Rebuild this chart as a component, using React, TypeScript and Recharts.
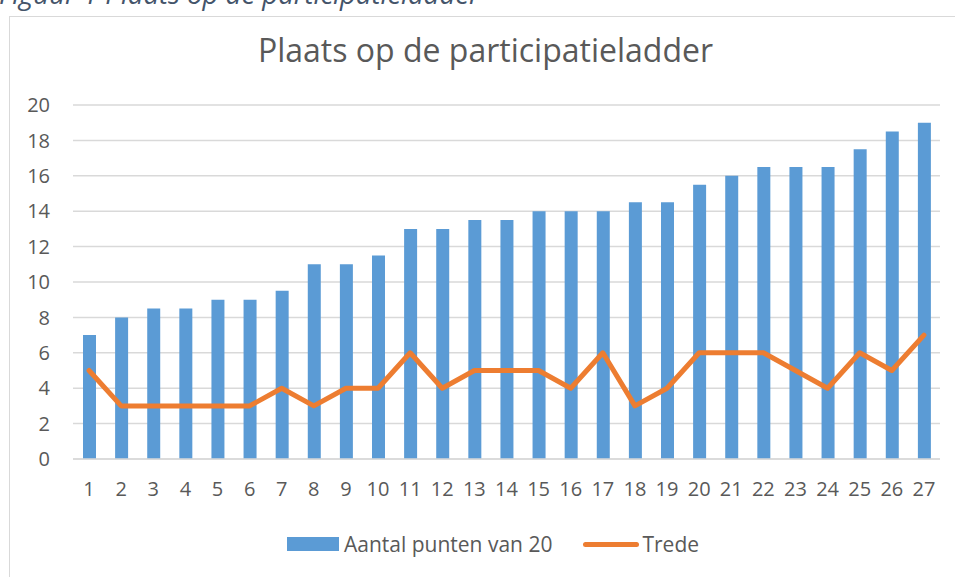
import React from "react";
import {
  Bar,
  CartesianGrid,
  ComposedChart,
  Line,
  XAxis,
  YAxis,
} from "recharts";

const deelnemers = [
  "1", "2", "3", "4", "5", "6", "7", "8", "9", "10", "11", "12", "13", "14",
  "15", "16", "17", "18", "19", "20", "21", "22", "23", "24", "25", "26", "27",
];

const punten = [
  7, 8, 8.5, 8.5, 9, 9, 9.5, 11, 11, 11.5, 13, 13, 13.5, 13.5, 14, 14, 14,
  14.5, 14.5, 15.5, 16, 16.5, 16.5, 16.5, 17.5, 18.5, 19,
];

const trede = [
  5, 3, 3, 3, 3, 3, 4, 3, 4, 4, 6, 4, 5, 5, 5, 4, 6, 3, 4, 6, 6, 6, 5, 4, 6, 5, 7,
];

const yTicks = [0, 2, 4, 6, 8, 10, 12, 14, 16, 18, 20];

const data = deelnemers.map((nr, i) => ({
  nr,
  punten: punten[i],
  trede: trede[i],
}));

const BLUE = "#5B9BD5";
const ORANGE = "#ED7D31";
const TEXT = "#595959";
const GRID = "#D9D9D9";
const FONT = "'Open Sans', sans-serif";

function LegendBox() {
  return (
    <div
      style={{
        position: "absolute",
        left: 287,
        top: 530,
        height: 28,
        display: "flex",
        alignItems: "center",
        fontFamily: FONT,
        fontSize: 21,
        color: TEXT,
        whiteSpace: "nowrap",
      }}
    >
      <span style={{ width: 52, height: 14, background: BLUE, display: "inline-block" }} />
      <span style={{ marginLeft: 5 }}>Aantal punten van 20</span>
      <span
        style={{
          width: 56,
          height: 5,
          borderRadius: 3,
          background: ORANGE,
          display: "inline-block",
          marginLeft: 31,
        }}
      />
      <span style={{ marginLeft: 3 }}>Trede</span>
    </div>
  );
}

export default function App() {
  return (
    <div
      style={{
        position: "fixed",
        left: 0,
        top: 0,
        width: 955,
        height: 577,
        overflow: "hidden",
        background: "#fff",
      }}
    >
      {/* figure caption, cut off at the top like in the source document */}
      <div
        style={{
          position: "absolute",
          left: -1,
          top: -20,
          fontFamily: FONT,
          fontStyle: "italic",
          fontSize: 27.5,
          lineHeight: 1,
          color: "#44546A",
          whiteSpace: "nowrap",
        }}
      >
        Figuur 1 Plaats op de participatieladder
      </div>
      <div
        style={{
          position: "absolute",
          left: 9,
          top: 16,
          width: 960,
          height: 580,
          border: "1.5px solid #D9D9D9",
          boxSizing: "border-box",
        }}
      />
      <div
        style={{
          position: "absolute",
          left: 9,
          width: 955,
          top: 34,
          textAlign: "center",
          fontFamily: FONT,
          fontSize: 32,
          lineHeight: 1,
          color: TEXT,
          whiteSpace: "nowrap",
          marginLeft: -1,
        }}
      >
        Plaats op de participatieladder
      </div>
      <div style={{ position: "absolute", left: 0, top: 0 }}>
        <ComposedChart
          width={955}
          height={577}
          data={data}
          margin={{ top: 105, right: 15, bottom: 88, left: 33 }}
        >
          <CartesianGrid vertical={false} stroke={GRID} strokeWidth={1.5} />
          <XAxis
            dataKey="nr"
            axisLine={{ stroke: GRID, strokeWidth: 1.5 }}
            tickLine={false}
            tickSize={0}
            tickMargin={23}
            height={30}
            interval={0}
            tick={{ fill: TEXT, fontSize: 20, fontFamily: FONT }}
          />
          <YAxis
            domain={[0, 20]}
            ticks={yTicks}
            axisLine={false}
            tickLine={false}
            tickSize={0}
            tickMargin={23}
            width={40}
            tick={{ fill: TEXT, fontSize: 20, fontFamily: FONT }}
          />
          <Bar
            dataKey="punten"
            name="Aantal punten van 20"
            fill={BLUE}
            barSize={13}
            isAnimationActive={false}
          />
          <Line
            dataKey="trede"
            name="Trede"
            type="linear"
            stroke={ORANGE}
            strokeWidth={5}
            strokeLinecap="round"
            strokeLinejoin="round"
            dot={false}
            activeDot={false}
            isAnimationActive={false}
          />
        </ComposedChart>
      </div>
      <LegendBox />
    </div>
  );
}
